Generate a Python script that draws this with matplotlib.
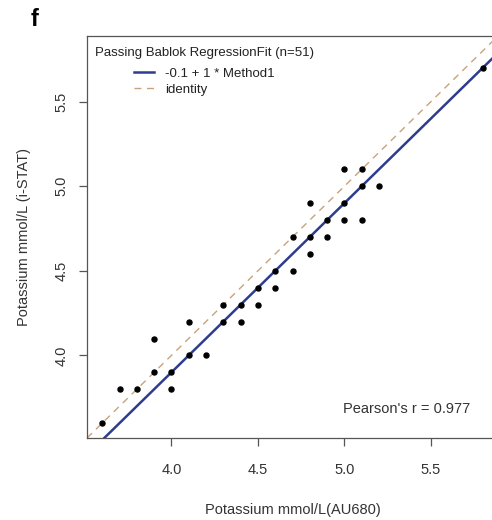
import numpy as np
import matplotlib
matplotlib.use("Agg")
import matplotlib.pyplot as plt

plt.rcParams['font.family'] = ['Liberation Sans', 'DejaVu Sans']

# Data (unique visible points; overlapping duplicates not distinguishable)
au680 = [3.6, 3.7, 3.8, 3.9, 3.9, 4.0, 4.0, 4.1, 4.1, 4.2, 4.3, 4.3, 4.4, 4.4,
         4.5, 4.5, 4.6, 4.6, 4.7, 4.7, 4.8, 4.8, 4.8, 4.9, 4.9, 5.0, 5.0, 5.0,
         5.1, 5.1, 5.1, 5.2, 5.8]
istat = [3.6, 3.8, 3.8, 3.9, 4.1, 3.9, 3.8, 4.0, 4.2, 4.0, 4.2, 4.3, 4.2, 4.3,
         4.3, 4.4, 4.4, 4.5, 4.5, 4.7, 4.6, 4.7, 4.9, 4.7, 4.8, 4.8, 4.9, 5.1,
         4.8, 5.0, 5.1, 5.0, 5.7]
intercept = -0.1
slope = 1.0
pearson_r = 0.977
n_obs = 51
axis_limits = (3.512, 5.888)
ticks = [4.0, 4.5, 5.0, 5.5]

fig = plt.figure(figsize=(4.92, 5.20), dpi=100)
ax = fig.add_axes([87/492, 82/520, 411/492, 402/520])

xx = np.array(axis_limits)
ax.plot(xx, intercept + slope * xx, color='#2D3C8E', lw=1.8,
        label=f'{intercept:g} + {slope:g} * Method1', zorder=2)
ax.plot(xx, xx, color='#C9A27C', lw=1.0, ls=(0, (5, 4)), label='identity', zorder=1)
ax.scatter(au680, istat, s=13, color='black', zorder=3)

ax.set_xlim(axis_limits)
ax.set_ylim(axis_limits)
ax.set_xticks(ticks)
ax.set_yticks(ticks)
ax.set_xticklabels([f'{t:.1f}' for t in ticks])
ax.set_yticklabels([f'{t:.1f}' for t in ticks], rotation=90, va='center')
ax.tick_params(axis='both', direction='out', length=6, width=0.9, color='#555555',
               labelsize=10.5, labelcolor='#333333')
ax.tick_params(axis='x', pad=12)
ax.tick_params(axis='y', pad=7)

ax.spines['right'].set_visible(False)
for sp in ['left', 'bottom', 'top']:
    ax.spines[sp].set_color('#555555')
    ax.spines[sp].set_linewidth(0.9)

ax.set_xlabel('Potassium mmol/L(AU680)', fontsize=10.5, color='#333333', labelpad=19)
ax.set_ylabel('Potassium mmol/L (i-STAT)', fontsize=10.5, color='#333333', labelpad=17)

leg = ax.legend(loc='upper left', bbox_to_anchor=(-0.008, 1.0), frameon=False,
                title=f'Passing Bablok RegressionFit (n={n_obs})', fontsize=9.5,
                title_fontsize=9.5, handlelength=1.45, handletextpad=0.85,
                labelspacing=0.28, borderaxespad=0.55, borderpad=0.3)
leg._legend_box.sep = 0.28 * 9.5 + 3.2
for t in leg.get_texts():
    t.set_color('#222222')
leg.get_title().set_color('#222222')

ax.text(0.932, 0.072, f"Pearson's r = {pearson_r}", transform=ax.transAxes,
        ha='right', va='center', fontsize=10.5, color='#333333')

fig.text(35/492, 1 - 20/520, 'f', fontsize=17, fontweight='bold', ha='center', va='center')

fig.savefig('out.png', dpi=100)
